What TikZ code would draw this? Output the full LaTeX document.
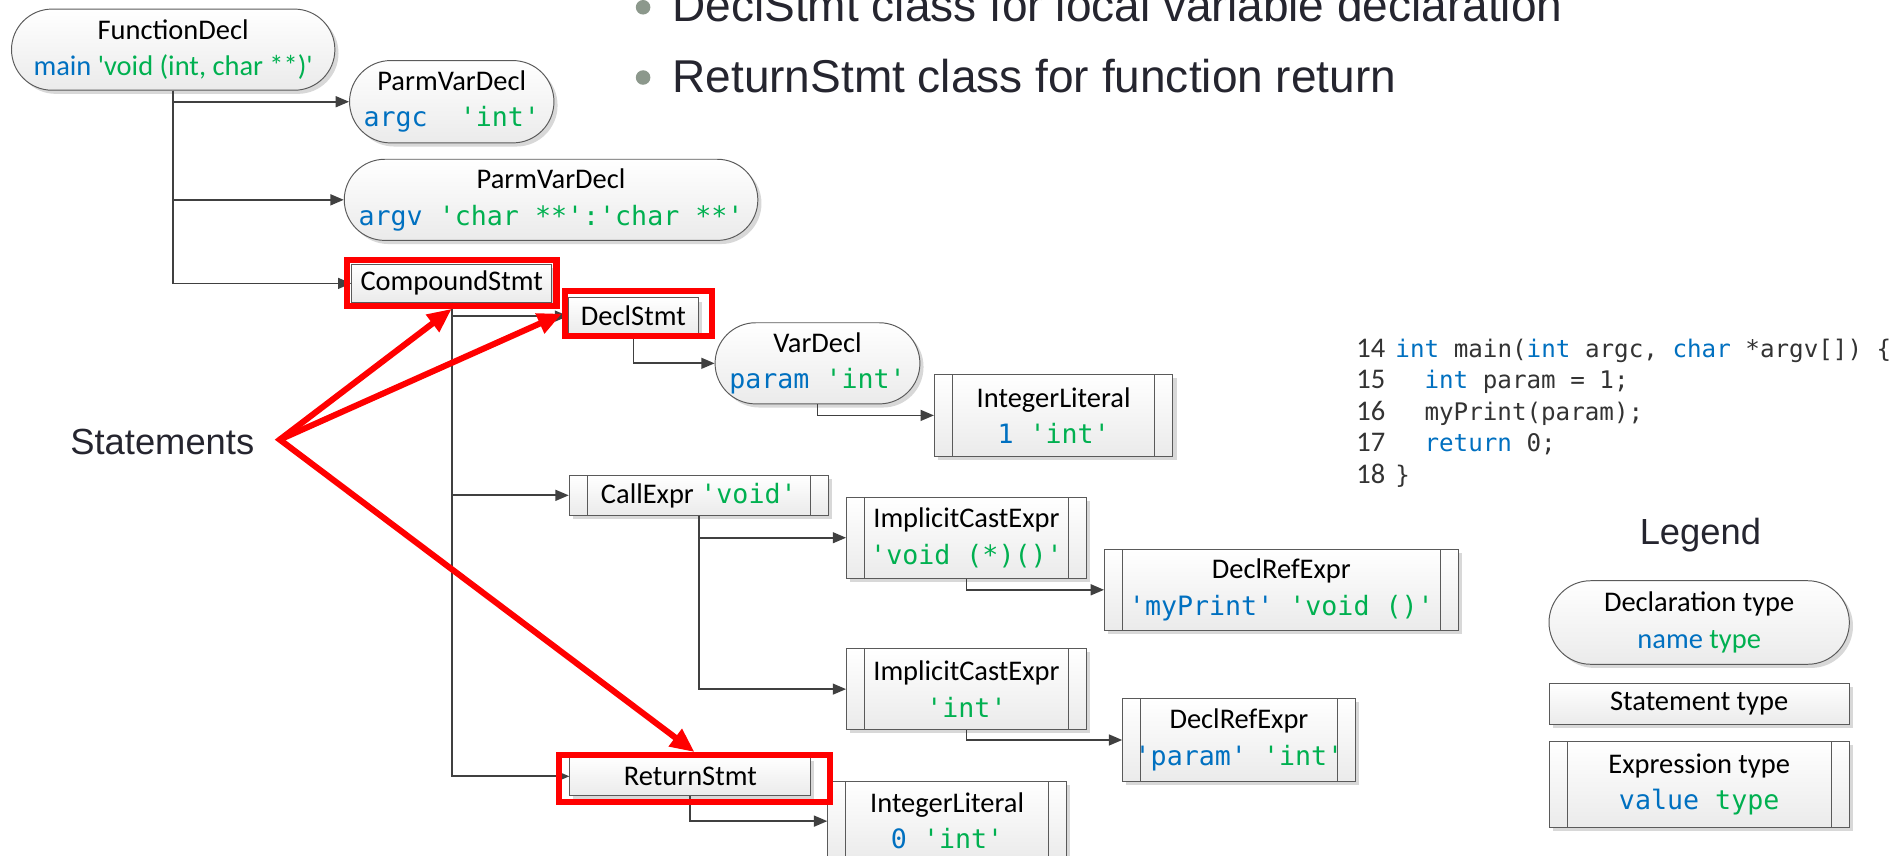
\documentclass[tikz,border=0pt]{standalone}
\usepackage{fontspec}
\setmainfont{Carlito}
\newfontfamily\codefont{DejaVu Sans Mono}
\newfontfamily\slidefont{Liberation Sans}
\usepackage{xcolor}
\usepackage{tikz}
\usetikzlibrary{arrows.meta,shapes.misc,shadows}

\definecolor{nameblue}{RGB}{0,112,192}
\definecolor{typegreen}{RGB}{0,176,80}
\definecolor{wiregray}{RGB}{64,64,64}
\definecolor{edgegray}{RGB}{90,90,90}
\definecolor{slidetext}{RGB}{37,37,47}
\definecolor{dotgray}{RGB}{140,152,140}
\definecolor{codegray}{RGB}{51,51,51}

\newcommand{\sq}{\textquotesingle}
\newcommand{\codetxt}[1]{{\codefont\fontsize{22}{30}\selectfont #1}}
\newcommand{\bluetxt}[1]{\textcolor{nameblue}{#1}}
\newcommand{\greentxt}[1]{\textcolor{typegreen}{#1}}

\tikzset{
  astnode/.style={draw=edgegray, line width=0.8pt, top color=white, bottom color=black!8,
    drop shadow={shadow xshift=3pt, shadow yshift=-3pt, fill=black!30, opacity=0.5},
    align=center, inner sep=0pt, font=\fontsize{23.5}{30}\selectfont},
  declnode/.style={astnode, rounded rectangle},
  stmtnode/.style={astnode, rectangle},
  exprnode/.style={astnode, rectangle,
    path picture={\draw[edgegray, line width=0.8pt]
      ([xshift=15pt]path picture bounding box.north west) -- ([xshift=15pt]path picture bounding box.south west)
      ([xshift=-15pt]path picture bounding box.north east) -- ([xshift=-15pt]path picture bounding box.south east);}},
  tree/.style={draw=wiregray, line width=1.4pt, >={Triangle[length=11pt,width=9pt]}},
  hilite/.style={draw=red, line width=5pt, rectangle, inner sep=0pt},
  redarrow/.style={draw=red, line width=5pt, >={Triangle[length=20pt,width=17pt]}},
  slideline/.style={font=\slidefont\fontsize{38}{46}\selectfont, text=slidetext, inner sep=0pt},
  slidelabel/.style={font=\slidefont\fontsize{30}{36}\selectfont, text=slidetext, inner sep=0pt},
  codeline/.style={font=\codefont\fontsize{20}{26}\selectfont, text=codegray, inner sep=0pt, anchor=base west},
  linenum/.style={font=\fontsize{23.5}{26}\selectfont, text=codegray, inner sep=0pt, anchor=base east},
}

\begin{document}
\begin{tikzpicture}[x=1pt, y=-1pt]
    \useasboundingbox (0,0) rectangle (1568,706);
    \clip (0,0) rectangle (1568,706);
    \fill[white] (0,0) rectangle (1568,706);

    % Bullet lines of the slide
    \fill[dotgray] (531,6) circle[radius=6pt];
    \node[slideline, anchor=base west] (bulletdecl) at (555,18) {DeclStmt class for local variable declaration};
    \fill[dotgray] (531,64) circle[radius=6pt];
    \node[slideline, anchor=base west] (bulletreturn) at (555,76) {ReturnStmt class for function return};

    % Declarations of main
    \node[declnode, minimum width=267pt, minimum height=67pt] (funcdecl) at (143,41) {FunctionDecl\\\bluetxt{main} \greentxt{\sq void (int, char **)\sq}};
    \node[declnode, minimum width=167pt, minimum height=68pt] (argc) at (373,84) {ParmVarDecl\\\codetxt{\bluetxt{argc}~~\greentxt{\sq int\sq}}};
    \node[declnode, minimum width=331pt, minimum height=67pt] (argv) at (455,165) {ParmVarDecl\\\codetxt{\bluetxt{argv} \greentxt{\sq char **\sq:\sq char **\sq}}};

    % Body statements
    \node[stmtnode, minimum width=165pt, minimum height=31pt] (compound) at (373,234) {CompoundStmt};
    \node[stmtnode, minimum width=107pt, minimum height=30pt] (declstmt) at (523,261) {DeclStmt};
    \node[declnode, minimum width=164pt, minimum height=67pt] (vardecl) at (675,300) {VarDecl\\\codetxt{\bluetxt{param} \greentxt{\sq int\sq}}};
    \node[exprnode, minimum width=197pt, minimum height=68pt] (intlitone) at (870,343) {IntegerLiteral\\\codetxt{\bluetxt{1} \greentxt{\sq int\sq}}};
    \node[exprnode, minimum width=214pt, minimum height=33pt] (callexpr) at (577,409) {CallExpr \codetxt{\greentxt{\sq void\sq}}};
    \node[exprnode, minimum width=198pt, minimum height=67pt] (castone) at (798,444) {ImplicitCastExpr\\\codetxt{\greentxt{\sq void (*)()\sq}}};
    \node[exprnode, minimum width=292pt, minimum height=67pt] (refprint) at (1058,487) {DeclRefExpr\\\codetxt{\bluetxt{\sq myPrint\sq} \greentxt{\sq void ()\sq}}};
    \node[exprnode, minimum width=198pt, minimum height=67pt] (casttwo) at (798,569) {ImplicitCastExpr\\\codetxt{\greentxt{\sq int\sq}}};
    \node[exprnode, minimum width=192pt, minimum height=68pt] (refparam) at (1023,611) {DeclRefExpr\\\codetxt{\bluetxt{\sq param\sq} \greentxt{\sq int\sq}}};
    \node[stmtnode, minimum width=199pt, minimum height=32pt] (returnstmt) at (570,641) {ReturnStmt};
    \node[exprnode, minimum width=197pt, minimum height=66pt] (intlitzero) at (782,678) {IntegerLiteral\\\codetxt{\bluetxt{0} \greentxt{\sq int\sq}}};

    % Tree connectors
    \draw[tree, ->] (funcdecl.south) |- (argc.west);
    \draw[tree, ->] (funcdecl.south) |- (argv.west);
    \draw[tree, ->] (funcdecl.south) |- (compound.west);
    \draw[tree, ->] (compound.south) |- (declstmt.west);
    \draw[tree, ->] (compound.south) |- (callexpr.west);
    \draw[tree, ->] (compound.south) |- (returnstmt.west);
    \draw[tree, ->] (declstmt.south) |- (vardecl.west);
    \draw[tree, ->] (vardecl.south) |- (intlitone.west);
    \draw[tree, ->] (callexpr.south) |- (castone.west);
    \draw[tree, ->] (callexpr.south) |- (casttwo.west);
    \draw[tree, ->] (castone.south) |- (refprint.west);
    \draw[tree, ->] (casttwo.south) |- (refparam.west);
    \draw[tree, ->] (returnstmt.south) |- (intlitzero.west);

    % Source lines
    \foreach \n [count=\i from 0] in {14,...,18}
        \node[linenum] (num\n) at (1144,295+26*\i) {\n};
    \node[codeline] (codefourteen) at (1152,295) {\bluetxt{int} main(\bluetxt{int} argc, \bluetxt{char} *argv[]) \{};
    \node[codeline] (codefifteen) at (1176,321) {\bluetxt{int} param = 1;};
    \node[codeline] (codesixteen) at (1176,347) {myPrint(param);};
    \node[codeline] (codeseventeen) at (1176,373) {\bluetxt{return} 0;};
    \node[codeline] (codeeighteen) at (1152,399) {\}};

    % Legend
    \node[slidelabel] (legendtitle) at (1404,442) {Legend};
    \node[declnode, minimum width=248pt, minimum height=69pt] (legdecl) at (1403,514) {Declaration type\\\bluetxt{name} \greentxt{type}};
    \node[stmtnode, minimum width=248pt, minimum height=34pt] (legstmt) at (1403,581) {Statement type};
    \node[exprnode, minimum width=248pt, minimum height=71pt] (legexpr) at (1403,648) {Expression type\\\codetxt{\bluetxt{value} \greentxt{type}}};

    % Statements marked in red
    \node[hilite, minimum width=173pt, minimum height=38pt] (markcompound) at (373,233.5) {};
    \node[hilite, minimum width=121pt, minimum height=37pt] (markdecl) at (527,259) {};
    \node[hilite, minimum width=224pt, minimum height=39pt] (markreturn) at (573.5,643) {};
    \node[slidelabel] (statements) at (134,365) {Statements};
    \coordinate (fan) at (231,363);
    \draw[redarrow, <->] (markcompound.south) -- (fan) -- (markreturn.north);
    \draw[redarrow, ->] (fan) -- (markdecl.west);

\end{tikzpicture}
\end{document}
